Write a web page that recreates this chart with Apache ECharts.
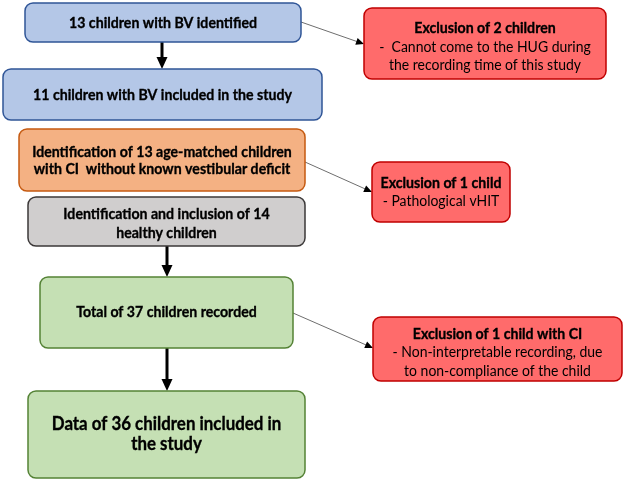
<!DOCTYPE html>
<html>
<head>
<meta charset="utf-8">
<script src="https://cdn.jsdelivr.net/npm/echarts@6/dist/echarts.min.js"></script>
<style>
html,body{margin:0;padding:0;background:#fff;}
#main{width:624px;height:483px;}
</style>
</head>
<body>
<div id="main"></div>
<script>
// texts of the flow
var flowSteps = [
    '13 children with BV identified',
    '11 children with BV included in the study',
    'Identification of 13 age-matched children\nwith CI  without known vestibular deficit',
    'Identification and inclusion of 14\nhealthy children',
    'Total of 37 children recorded',
    'Data of 36 children included in\nthe study'
];
var exclusionTitles = ['Exclusion of 2 children', 'Exclusion of 1 child', 'Exclusion of 1 child with CI'];
var exclusionDetails = [
    '-  Cannot come to the HUG during\nthe recording time of this study',
    '- Pathological vHIT',
    '- Non-interpretable recording, due\nto non-compliance of the child'
];
// main arrows go step -> step, each exclusion comes out of one step
var mainArrows = [[0, 1], [3, 4], [4, 5]];
var exclusionFrom = [0, 2, 4];

// layout, px: box [x0, y0, x1, y1]
var stepBoxes = [[25, 3, 301, 42], [3, 69, 322, 120], [19, 129, 305, 191], [28, 197, 305, 246], [40, 277, 293, 348], [28, 391, 305, 478]];
var exclBoxes = [[364, 8, 606, 79], [372, 162, 510, 222], [373, 317, 622, 381]];
var stepFill = ['#b4c7e7', '#b4c7e7', '#f4b183', '#d0cece', '#c5e0b4', '#c5e0b4'];
var stepBorder = ['#2f5597', '#2f5597', '#c55a11', '#3b3838', '#548235', '#548235'];
var stepFont = [15.5, 15.5, 15.5, 15.5, 15.5, 18.5];
var stepLine = [18, 18, 17, 19, 18, 20];
var stepDy = [0, 0, 0, 2, -1, 0];
var exclDy = [3, 0, 3];
var arrowX = [162, 167, 167];
var sideLines = [[[301, 22], [364, 44]], [[305, 162], [372, 192]], [[293, 313], [373, 348]]];

var font = 'Lato, "Open Sans", sans-serif';

// Calibri-like width: squeeze the text to the widths
var ctx = document.createElement('canvas').getContext('2d');
function textW(s, f) { ctx.font = f; return ctx.measureText(s).width; }
var squeezeBold = 188 / textW(flowSteps[0], 'bold 15.5px ' + font);
var squeezeReg = 210 / textW('- Non-interpretable recording, due', '15.5px ' + font);

var els = [];

function boxRect(b, fill, stroke) {
    els.push({
        type: 'rect', z: 2,
        shape: {x: b[0], y: b[1], width: b[2] - b[0], height: b[3] - b[1], r: 8},
        style: {fill: fill, stroke: stroke, lineWidth: 1.5}
    });
}

// lines: [{text, bold}] centred in the box
function boxText(b, lines, size, lh, dy) {
    var cx = (b[0] + b[2]) / 2;
    var cy = (b[1] + b[3]) / 2 + dy;
    var top = cy - lines.length * lh / 2 + lh / 2;
    lines.forEach(function (ln, i) {
        var y = top + i * lh;
        els.push({
            type: 'text', z: 3,
            x: cx, y: y, originX: 0, originY: 0,
            scaleX: ln.bold ? squeezeBold : squeezeReg,
            style: {
                text: ln.text, fill: '#000', align: 'center', verticalAlign: 'middle',
                font: (ln.bold ? 'bold ' : '') + size + 'px ' + font,
                stroke: ln.bold ? '#000' : null, lineWidth: ln.bold ? 0.35 : 0
            }
        });
    });
}

function arrow(p0, p1, width, color, headLen, headW, headColor) {
    var dx = p1[0] - p0[0], dy = p1[1] - p0[1];
    var len = Math.sqrt(dx * dx + dy * dy);
    var ux = dx / len, uy = dy / len;
    var bx = p1[0] - ux * headLen, by = p1[1] - uy * headLen;
    els.push({
        type: 'line', z: 1,
        shape: {x1: p0[0], y1: p0[1], x2: bx + ux, y2: by + uy},
        style: {stroke: color, lineWidth: width}
    });
    els.push({
        type: 'polygon', z: 1,
        shape: {points: [[p1[0], p1[1]], [bx - uy * headW / 2, by + ux * headW / 2], [bx + uy * headW / 2, by - ux * headW / 2]]},
        style: {fill: headColor}
    });
}

flowSteps.forEach(function (t, i) {
    boxRect(stepBoxes[i], stepFill[i], stepBorder[i]);
    boxText(stepBoxes[i], t.split('\n').map(function (s) { return {text: s, bold: true}; }), stepFont[i], stepLine[i], stepDy[i]);
});

exclusionTitles.forEach(function (t, i) {
    boxRect(exclBoxes[i], '#ff6b6b', '#c00000');
    var lines = [{text: t, bold: true}].concat(exclusionDetails[i].split('\n').map(function (s) { return {text: s, bold: false}; }));
    boxText(exclBoxes[i], lines, 15.5, 18.5, exclDy[i]);
    arrow(sideLines[i][0], sideLines[i][1], 1, '#6e6e6e', 8, 7, '#000');
});

mainArrows.forEach(function (a, i) {
    var x = arrowX[i];
    arrow([x, stepBoxes[a[0]][3]], [x, stepBoxes[a[1]][1]], 3, '#000', 12, 11, '#000');
});

var chart = echarts.init(document.getElementById('main'));
chart.setOption({
    animation: false,
    graphic: {elements: els}
});
</script>
</body>
</html>
